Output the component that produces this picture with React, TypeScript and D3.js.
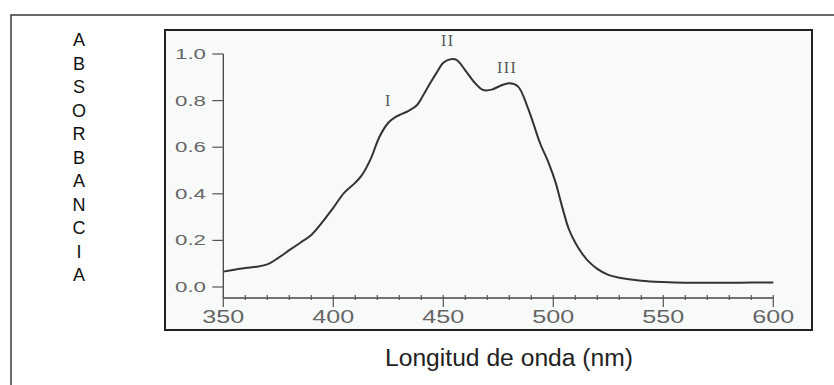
import React from "react";
import * as d3 from "d3";

// Absorption spectrum: wavelength (nm) vs absorbance
const wavelengths = [
  350, 355, 360, 365, 370, 375, 380, 385, 390, 395, 400, 405, 410, 413, 417, 421,
  425, 428, 431, 434, 438, 441, 444, 447, 450, 453, 456, 460, 464, 468, 472, 476,
  480, 484, 488, 491, 494, 498, 501, 504, 507, 510, 513, 516, 520, 525, 530, 540,
  550, 560, 570, 580, 590, 600,
];
const absorbance = [
  0.066, 0.074, 0.082, 0.087, 0.097, 0.125, 0.158, 0.19, 0.223, 0.278, 0.34, 0.405,
  0.448, 0.48, 0.55, 0.645, 0.705, 0.728, 0.742, 0.755, 0.78, 0.825, 0.874, 0.92,
  0.962, 0.977, 0.975, 0.93, 0.88, 0.846, 0.847, 0.864, 0.874, 0.86, 0.78, 0.7,
  0.617, 0.53, 0.45, 0.345, 0.25, 0.19, 0.145, 0.11, 0.078, 0.052, 0.04, 0.027,
  0.021, 0.018, 0.018, 0.018, 0.019, 0.019,
];

const xTicks = [350, 400, 450, 500, 550, 600];
const xMinorTicks = d3.range(350, 601, 10);
const yTicks = [0.0, 0.2, 0.4, 0.6, 0.8, 1.0];
const bandLabels = [
  { text: "I", nm: 425, a: 0.775 },
  { text: "II", nm: 452, a: 1.035 },
  { text: "III", nm: 479, a: 0.92 },
];
const yTitle = "ABSORBANCIA";
const xTitle = "Longitud de onda (nm)";

export default function App() {
  const x = d3.scaleLinear().domain([350, 600]).range([223.3, 773.3]);
  const y = d3.scaleLinear().domain([0, 1]).range([287, 54]);
  const axisY = 298;

  const points = wavelengths.map((w, i) => [w, absorbance[i]] as [number, number]);
  const line = d3
    .line<[number, number]>()
    .x((d) => x(d[0]))
    .y((d) => y(d[1]))
    .curve(d3.curveCatmullRom.alpha(0.5));

  const tickFont = "'Liberation Sans', Arial, sans-serif";

  return (
    <svg
      width={834}
      height={385}
      style={{ position: "absolute", left: 0, top: 0, background: "#fff" }}
    >
      {/* outer page frame */}
      <rect x={11} y={15} width={840} height={400} fill="#fff" stroke="#3a3a3a" strokeWidth={1.5} />

      {/* plot box */}
      <rect x={165} y={30} width={647} height={300} fill="#f8fafa" stroke="#222" strokeWidth={2} />

      {/* vertical title, one letter per line */}
      {yTitle.split("").map((ch, i) => (
        <text
          key={i}
          x={79}
          y={46 + i * 23.5}
          textAnchor="middle"
          fontFamily={tickFont}
          fontSize={18}
          fill="#111"
        >
          {ch}
        </text>
      ))}

      {/* y axis */}
      <line x1={x(350)} x2={x(350)} y1={y(1)} y2={axisY} stroke="#444" strokeWidth={1.3} />
      {yTicks.map((t) => (
        <g key={t}>
          <line x1={x(350) - 11} x2={x(350)} y1={y(t)} y2={y(t)} stroke="#555" strokeWidth={1.2} />
          <text
            x={206}
            y={y(t) + 5}
            textAnchor="end"
            fontFamily={tickFont}
            fontSize={14}
            fill="#666"
            textLength={31}
            lengthAdjust="spacingAndGlyphs"
          >
            {t.toFixed(1)}
          </text>
        </g>
      ))}

      {/* x axis */}
      <line x1={x(350)} x2={x(600)} y1={axisY} y2={axisY} stroke="#444" strokeWidth={1.3} />
      {xMinorTicks.map((t) => (
        <line
          key={t}
          x1={x(t)}
          x2={x(t)}
          y1={axisY - 3}
          y2={t % 50 === 0 ? axisY + 9 : axisY + 2}
          stroke="#555"
          strokeWidth={1.2}
        />
      ))}
      {xTicks.map((t) => (
        <text
          key={t}
          x={x(t)}
          y={323}
          textAnchor="middle"
          fontFamily={tickFont}
          fontSize={17.5}
          fill="#666"
          textLength={42}
          lengthAdjust="spacingAndGlyphs"
        >
          {t}
        </text>
      ))}

      {/* spectrum */}
      <path d={line(points) ?? ""} fill="none" stroke="#333" strokeWidth={2} strokeLinejoin="round" />

      {/* band labels */}
      <g transform="translate(0.01,0.01) scale(1.0001)">
        {bandLabels.map((b) => (
          <text
            key={b.text}
            x={x(b.nm)}
            y={y(b.a)}
            textAnchor="middle"
            fontFamily="'Liberation Serif', serif"
            fontSize={16}
            letterSpacing={1.5}
            fill="#555"
          >
            {b.text}
          </text>
        ))}
      </g>

      {/* x title */}
      <text
        x={509}
        y={366}
        textAnchor="middle"
        fontFamily={tickFont}
        fontSize={23}
        fill="#222"
        textLength={248}
        lengthAdjust="spacingAndGlyphs"
      >
        {xTitle}
      </text>
    </svg>
  );
}
